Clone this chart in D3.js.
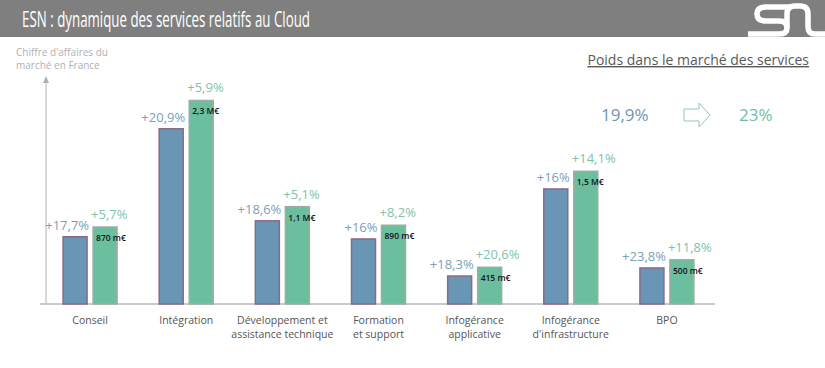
<!DOCTYPE html>
<html>
<head>
<meta charset="utf-8">
<script src="https://cdn.jsdelivr.net/npm/d3@7"></script>
<style>
  body { margin: 0; background: #fff; }
  svg { display: block; font-family: "Open Sans", sans-serif; }
</style>
</head>
<body>
<svg id="chart" width="825" height="368"></svg>
<script>
// categories (two-line labels)
var categories = ["Conseil", "Intégration", "Développement et|assistance technique", "Formation|et support", "Infogérance|applicative", "Infogérance|d'infrastructure", "BPO"];
// previous year market (m€)
var prevValues = [760, 1980, 940, 735, 316, 1300, 407];
// current market (m€)
var currValues = [870, 2300, 1100, 890, 415, 1500, 500];
var prevGrowth = ["+17,7%", "+20,9%", "+18,6%", "+16%", "+18,3%", "+16%", "+23,8%"];
var currGrowth = ["+5,7%", "+5,9%", "+5,1%", "+8,2%", "+20,6%", "+14,1%", "+11,8%"];
var valueLabels = ["870 m€", "2,3 M€", "1,1 M€", "890 m€", "415 m€", "1,5 M€", "500 m€"];

var svg = d3.select('#chart');
var baseY = 304;

// title bar
svg.append('rect').attr('x', 0).attr('y', 0).attr('width', 825).attr('height', 37).attr('fill', '#7f7f7f');
svg.append('text').attr('x', 22).attr('y', 27).attr('fill', '#fff')
  .style('font-family', '"Open Sans", sans-serif').style('font-size', '21.5px')
  .attr('textLength', 288).attr('lengthAdjust', 'spacingAndGlyphs')
  .text('ESN : dynamique des services relatifs au Cloud');

// logo (rough)
var logo = svg.append('g').attr('fill', 'none').attr('stroke', '#fff').attr('stroke-width', 5.5)
  .attr('stroke-linecap', 'butt');
logo.append('path').attr('d', 'M790,7 L766,7 Q757,7 757,14 Q757,21 766,21 L779,21 Q787,21 787,28 Q787,34 779,34 L748,34');
logo.append('path').attr('d', 'M787,28 L787,14 Q787,6 795,6 L800,6 Q808,6 808,14 L808,27 Q808,34 815,34 L825,34');

// axes
svg.append('line').attr('x1', 40).attr('x2', 715).attr('y1', baseY).attr('y2', baseY)
  .attr('stroke', '#b8b8b8').attr('stroke-width', 1.5);
svg.append('line').attr('x1', 46).attr('x2', 46).attr('y1', baseY).attr('y2', 80)
  .attr('stroke', '#c0c0c0').attr('stroke-width', 1.2);
svg.append('path').attr('d', 'M43,83 L46,76 L49,83 Z').attr('fill', '#b0b0b0');

svg.append('text').attr('x', 16).attr('y', 56).attr('fill', '#b0b0b0').style('font-size', '10px')
  .text("Chiffre d'affaires du");
svg.append('text').attr('x', 16).attr('y', 69).attr('fill', '#b0b0b0').style('font-size', '10px')
  .text('marché en France');

// scales
var x = d3.scaleBand().domain(categories).range([42, 715]);
var sub = d3.scaleBand().domain(['prev', 'curr']).range([-27, 27]).paddingInner(0.2);
var y = d3.scaleLinear().domain([0, 2500]).range([baseY, baseY - 2500 * 0.0885]);

var groups = svg.selectAll('g.grp').data(categories).join('g').attr('class', 'grp')
  .attr('transform', function(d) { return 'translate(' + (x(d) + x.bandwidth() / 2) + ',0)'; });

groups.append('rect')
  .attr('x', sub('prev')).attr('width', sub.bandwidth())
  .attr('y', function(d, i) { return y(prevValues[i]); })
  .attr('height', function(d, i) { return baseY - y(prevValues[i]); })
  .attr('fill', '#6a96b6').attr('stroke', '#8a6a88').attr('stroke-width', 1.5);

groups.append('rect')
  .attr('x', sub('curr')).attr('width', sub.bandwidth())
  .attr('y', function(d, i) { return y(currValues[i]); })
  .attr('height', function(d, i) { return baseY - y(currValues[i]); })
  .attr('fill', '#6cbf9e').attr('stroke', '#a3aaa6').attr('stroke-width', 1.5);

groups.append('text')
  .attr('x', sub('prev') + sub.bandwidth() + 2)
  .attr('y', function(d, i) { return y(prevValues[i]) - 7; })
  .attr('text-anchor', 'end').attr('fill', '#7a9fb8').style('font-size', '13px')
  .text(function(d, i) { return prevGrowth[i]; });

groups.append('text')
  .attr('x', sub('curr') - 2)
  .attr('y', function(d, i) { return y(currValues[i]) - 8; })
  .attr('text-anchor', 'start').attr('fill', '#7fc3a8').style('font-size', '13px')
  .text(function(d, i) { return currGrowth[i]; });

groups.append('text')
  .attr('x', sub('curr') + 3)
  .attr('y', function(d, i) { return y(currValues[i]) + 14; })
  .attr('fill', '#111').style('font-size', '8.5px').style('font-weight', '600')
  .text(function(d, i) { return valueLabels[i]; });

groups.append('text')
  .attr('text-anchor', 'middle').attr('fill', '#555').style('font-size', '10.5px')
  .selectAll('tspan').data(function(d) { return d.split('|'); }).join('tspan')
  .attr('x', 0).attr('y', function(d, i) { return 324 + i * 14; })
  .text(function(d) { return d; });

// weight in the services market
svg.append('text').attr('x', 809).attr('y', 65).attr('text-anchor', 'end')
  .attr('fill', '#595959').style('font-size', '14px').style('text-decoration', 'underline')
  .text('Poids dans le marché des services');
svg.append('text').attr('x', 601).attr('y', 121).attr('fill', '#6f96b0').style('font-size', '17px')
  .text('19,9%');
svg.append('text').attr('x', 739).attr('y', 121).attr('fill', '#6fbf9f').style('font-size', '17px')
  .text('23%');
svg.append('path').attr('d', 'M684,109 L699,109 L699,103 L710,115 L699,127 L699,121 L684,121 Z')
  .attr('fill', '#fff').attr('stroke', '#8fc9b4').attr('stroke-width', 1);
</script>
</body>
</html>
